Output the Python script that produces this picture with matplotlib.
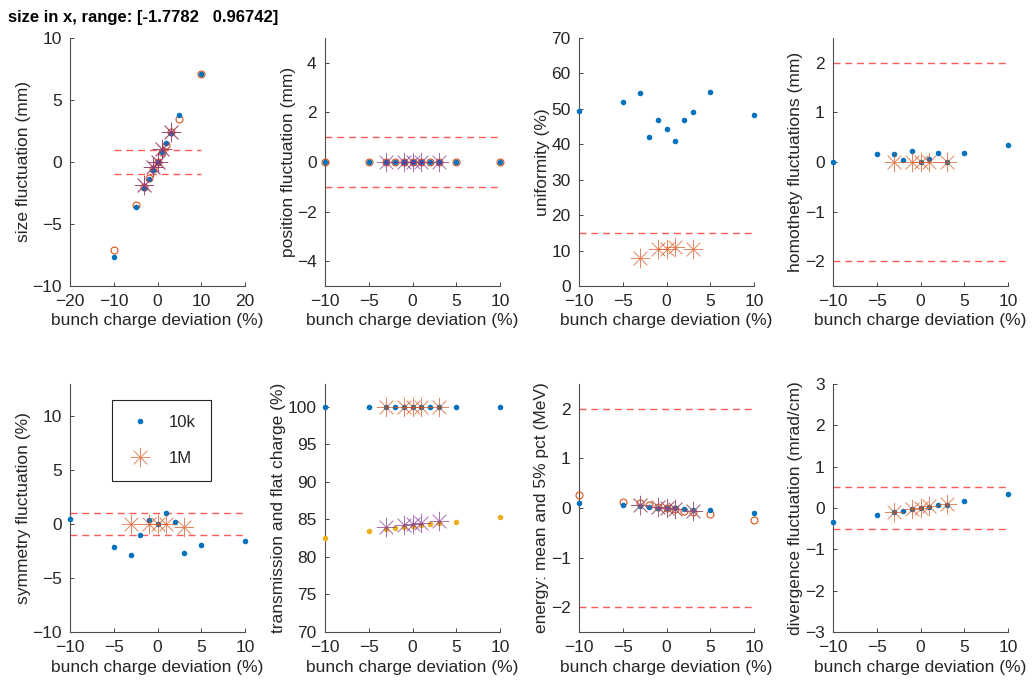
import matplotlib
matplotlib.use("Agg")
import matplotlib.pyplot as plt
from matplotlib.path import Path
import numpy as np

plt.rcParams['font.family'] = ['Liberation Sans', 'DejaVu Sans']
plt.rcParams['font.size'] = 12.5
plt.rcParams['text.color'] = '#262626'
plt.rcParams['axes.labelcolor'] = '#262626'
plt.rcParams['xtick.color'] = '#262626'
plt.rcParams['ytick.color'] = '#262626'

# bunch charge deviation (%)
charge_10k = [-10, -5, -3, -2, -1, 0, 1, 2, 3, 5, 10]
charge_1m = [-3, -1, 0, 1, 3]

# size fluctuation (mm)
size_a_10k = [-7.65, -3.65, -2.14, -1.38, -0.68, 0.0, 0.76, 1.51, 2.3, 3.76, 7.1]
size_b_10k = [-7.1, -3.5, -2.0, -1.3, -0.6, 0.0, 0.8, 1.4, 2.4, 3.5, 7.1]
size_a_1m = [-1.9, -0.4, 0.0, 1.03, 2.4]
size_b_1m = [-1.9, -0.4, 0.0, 1.03, 2.4]
size_tol = 1.0

# position fluctuation (mm)
pos_a_10k = [0, 0, 0, 0, 0, 0, 0, 0, 0, 0, 0]
pos_b_10k = [0, 0, 0, 0, 0, 0, 0, 0, 0, 0, 0]
pos_b_1m = [0, 0, 0, 0, 0]
pos_tol = 1.0

# uniformity (%)
unif_10k = [49.4, 51.8, 54.4, 42.0, 46.7, 44.3, 41.0, 46.7, 49.2, 54.8, 48.1]
unif_1m = [7.8, 10.5, 10.5, 11.1, 10.5]
unif_tol = 15.0

# homothety fluctuations (mm)
homo_10k = [0.0, 0.16, 0.16, 0.03, 0.22, 0.0, 0.06, 0.18, 0.0, 0.17, 0.35]
homo_1m = [0, 0, 0, 0, 0]
homo_tol = 2.0

# symmetry fluctuation (%)
sym_10k = [0.49, -2.1, -2.9, -1.0, 0.4, 0.0, 1.08, 0.22, -2.65, -1.9, -1.55]
sym_1m = [0.0, 0.0, 0.0, 0.0, -0.25]
sym_tol = 1.0

# transmission and flat charge (%)
trans_10k = [100, 100, 100, 100, 100, 100, 100, 100, 100, 100, 100]
trans_1m = [100, 100, 100, 100, 100]
flat_10k = [82.55, 83.4, 83.7, 83.9, 83.96, 84.1, 84.2, 84.4, 84.5, 84.7, 85.25]
flat_1m = [84.0, 84.3, 84.4, 84.5, 84.75]

# energy: mean and 5% pct (MeV)
en_mean_10k = [0.1, 0.054, 0.05, 0.03, 0.01, 0.0, -0.01, -0.03, -0.04, -0.05, -0.1]
en_pct_10k = [0.26, 0.13, 0.1, 0.07, 0.03, 0.0, -0.03, -0.06, -0.08, -0.13, -0.25]
en_mean_1m = [0.06, 0.03, 0.0, -0.03, -0.07]
en_tol = 2.0

# divergence fluctuation (mrad/cm)
div_10k = [-0.35, -0.16, -0.09, -0.065, -0.03, 0.0, 0.02, 0.065, 0.08, 0.17, 0.35]
div_1m = [-0.1, -0.02, 0.0, 0.04, 0.1]
div_tol = 0.5

BLUE = '#0072BD'
ORANGE = '#D95319'
YELLOW = '#EDB120'
PURPLE = '#7E2F8E'
RED = '#FF5A5A'

# MATLAB-style asterisk marker (8 spokes)
d = np.sqrt(0.5)
ast = Path([(-1, 0), (1, 0), (0, -1), (0, 1), (-d, -d), (d, d), (-d, d), (d, -d)],
           [Path.MOVETO, Path.LINETO] * 4)


def dots(ax, x, y, c=BLUE, label=None):
    ax.plot(x, y, ls='none', marker='o', ms=4, mfc=c, mec='none', label=label,
            clip_on=False, zorder=3)


def rings(ax, x, y, c=ORANGE):
    ax.plot(x, y, ls='none', marker='o', ms=5, mfc='none', mec=c, mew=0.8,
            clip_on=False, zorder=3)


def stars(ax, x, y, c=ORANGE, label=None):
    ax.plot(x, y, ls='none', marker=ast, ms=14, mfc='none', mec=c, mew=0.7,
            alpha=0.7, label=label, clip_on=False, zorder=4)


def tol(ax, levels):
    for lv in levels:
        ax.plot([min(charge_10k), max(charge_10k)], [lv, lv], ls='--',
                dashes=(5, 3.5), color=RED, lw=1)


fig = plt.figure(figsize=(10.36, 6.89), dpi=100)
lefts = [0.0676, 0.3137, 0.5589, 0.8041]
bottoms = [0.585, 0.0827]
axs = [[fig.add_axes([l, b, 0.169, 0.360]) for l in lefts] for b in bottoms]

# size
ax = axs[0][0]
tol(ax, [size_tol, -size_tol])
rings(ax, charge_10k, size_b_10k)
dots(ax, charge_10k, size_a_10k)
stars(ax, charge_1m, size_a_1m, ORANGE)
stars(ax, charge_1m, size_b_1m, PURPLE)
ax.set_xlim(-20, 20)
ax.set_ylim(-10, 10)
ax.set_xticks([-20, -10, 0, 10, 20])
ax.set_yticks([-10, -5, 0, 5, 10])
ax.set_ylabel('size fluctuation (mm)')

# position
ax = axs[0][1]
tol(ax, [pos_tol, -pos_tol])
rings(ax, charge_10k, pos_b_10k)
dots(ax, charge_10k, pos_a_10k)
stars(ax, charge_1m, pos_b_1m, PURPLE)
ax.set_ylim(-5, 5)
ax.set_yticks([-4, -2, 0, 2, 4])
ax.set_ylabel('position fluctuation (mm)')

# uniformity
ax = axs[0][2]
tol(ax, [unif_tol])
dots(ax, charge_10k, unif_10k)
stars(ax, charge_1m, unif_1m, ORANGE)
ax.set_ylim(0, 70)
ax.set_yticks(range(0, 71, 10))
ax.set_ylabel('uniformity (%)')

# homothety
ax = axs[0][3]
tol(ax, [homo_tol, -homo_tol])
dots(ax, charge_10k, homo_10k)
stars(ax, charge_1m, homo_1m, ORANGE)
ax.set_ylim(-2.5, 2.5)
ax.set_yticks([-2, -1, 0, 1, 2])
ax.set_ylabel('homothety fluctuations (mm)')

# symmetry
ax = axs[1][0]
tol(ax, [sym_tol, -sym_tol])
dots(ax, charge_10k, sym_10k, label='10k')
stars(ax, charge_1m, sym_1m, ORANGE, label='1M')
ax.set_ylim(-10, 13)
ax.set_yticks([-10, -5, 0, 5, 10])
ax.set_ylabel('symmetry fluctuation (%)')
leg = ax.legend(loc='upper left', bbox_to_anchor=(0.24, 0.935), borderaxespad=0,
                fancybox=False, edgecolor='#262626', framealpha=1, borderpad=0.9,
                labelspacing=1.25, handletextpad=0.9, handlelength=1.6, fontsize=12)
leg.get_frame().set_linewidth(0.8)

# transmission
ax = axs[1][1]
dots(ax, charge_10k, trans_10k)
stars(ax, charge_1m, trans_1m, ORANGE)
dots(ax, charge_10k, flat_10k, YELLOW)
stars(ax, charge_1m, flat_1m, PURPLE)
ax.set_ylim(70, 103)
ax.set_yticks(range(70, 101, 5))
ax.set_ylabel('transmission and flat charge (%)')

# energy
ax = axs[1][2]
tol(ax, [en_tol, -en_tol])
rings(ax, charge_10k, en_pct_10k)
dots(ax, charge_10k, en_mean_10k)
stars(ax, charge_1m, en_mean_1m, YELLOW)
stars(ax, charge_1m, en_mean_1m, PURPLE)
ax.set_ylim(-2.5, 2.5)
ax.set_yticks([-2, -1, 0, 1, 2])
ax.set_ylabel('energy: mean and 5% pct (MeV)')

# divergence
ax = axs[1][3]
tol(ax, [div_tol, -div_tol])
dots(ax, charge_10k, div_10k)
stars(ax, charge_1m, div_1m, ORANGE)
ax.set_ylim(-3, 3)
ax.set_yticks([-3, -2, -1, 0, 1, 2, 3])
ax.set_ylabel('divergence fluctuation (mrad/cm)')

for i, row in enumerate(axs):
    for j, ax in enumerate(row):
        if not (i == 0 and j == 0):
            ax.set_xlim(-10, 10)
            ax.set_xticks([-10, -5, 0, 5, 10])
        ax.set_xlabel('bunch charge deviation (%)', labelpad=3)
        ax.yaxis.labelpad = 1
        for s in ['top', 'right']:
            ax.spines[s].set_visible(False)
        for s in ['left', 'bottom']:
            ax.spines[s].set_color('#4d4d4d')
            ax.spines[s].set_linewidth(0.8)
        ax.tick_params(direction='in', length=3, width=0.6, pad=6)

fig.text(0.008, 0.985, 'size in x, range: [-1.7782   0.96742]', fontsize=12,
         fontweight='bold', color='black', va='top', ha='left')

fig.savefig('out.png', dpi=100)
